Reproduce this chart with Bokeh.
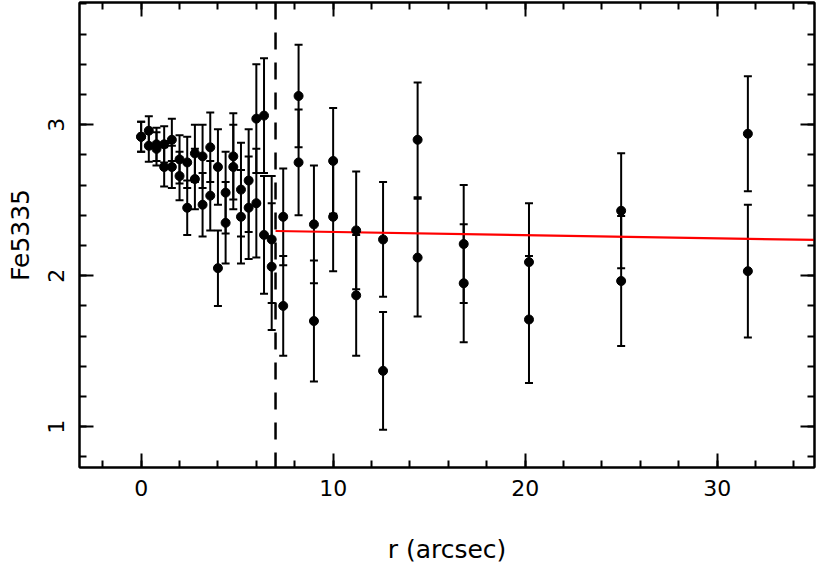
from bokeh.plotting import figure
from bokeh.models import (ColumnDataSource, Whisker, TeeHead, Span, LinearAxis,
                          CustomJSTickFormatter, SingleIntervalTicker, Range1d)
from bokeh.embed import file_html
from bokeh.resources import INLINE

# radius (arcsec) of each bin
r = [0.0, 0.4, 0.8, 1.2, 1.6, 2.0, 2.4, 2.8, 3.2, 3.6, 4.0, 4.4, 4.8, 5.2, 5.6,
     6.0, 6.4, 6.8, 7.4, 8.2, 9.0, 10.0, 11.2, 12.6, 14.4, 16.8, 20.2, 25.0, 31.6]
# side A of the galaxy
fe_a = [2.92, 2.96, 2.87, 2.87, 2.90, 2.77, 2.75, 2.81, 2.79, 2.85, 2.72, 2.55, 2.79, 2.57, 2.63,
        3.04, 3.06, 2.24, 2.39, 3.19, 2.34, 2.76, 2.30, 2.24, 2.90, 2.21, 2.09, 2.43, 2.94]
err_a = [0.10, 0.095, 0.11, 0.12, 0.14, 0.16, 0.17, 0.19, 0.21, 0.23, 0.25, 0.27, 0.285, 0.31, 0.34,
         0.36, 0.38, 0.42, 0.32, 0.34, 0.39, 0.35, 0.39, 0.38, 0.38, 0.39, 0.39, 0.38, 0.38]
# side B of the galaxy
fe_b = [2.92, 2.86, 2.84, 2.72, 2.72, 2.66, 2.45, 2.64, 2.47, 2.53, 2.05, 2.35, 2.72, 2.39, 2.45,
        2.48, 2.27, 2.06, 1.80, 2.75, 1.70, 2.39, 1.87, 1.37, 2.12, 1.95, 1.71, 1.965, 2.03]
err_b = [0.10, 0.105, 0.11, 0.13, 0.14, 0.16, 0.18, 0.20, 0.21, 0.23, 0.25, 0.27, 0.28, 0.31, 0.34,
         0.36, 0.39, 0.42, 0.33, 0.35, 0.40, 0.36, 0.40, 0.39, 0.39, 0.39, 0.42, 0.43, 0.44]

# linear fit beyond the break radius
r_break = 7.0
fit_r = [7.0, 35.1]
fit_fe = [2.296, 2.237]

FONT = "DejaVu Sans"

p = figure(width=817, height=566, output_backend="svg", toolbar_location=None,
           x_range=Range1d(-3.21, 35.07), y_range=Range1d(0.73, 3.809),
           min_border_left=79, min_border_right=3, min_border_top=2, min_border_bottom=96)
p.grid.visible = False
p.outline_line_color = "black"
p.outline_line_width = 2
p.background_fill_color = "white"
p.border_fill_color = "white"

xt = SingleIntervalTicker(interval=10, num_minor_ticks=5)
yt = SingleIntervalTicker(interval=1, num_minor_ticks=5)

xa = p.xaxis[0]
xa.ticker = xt
ya = p.yaxis[0]
ya.ticker = yt
for ax in (xa, ya):
    ax.axis_line_color = "black"
    ax.axis_line_width = 2
    ax.major_tick_in = 14
    ax.major_tick_out = 0
    ax.minor_tick_in = 7
    ax.minor_tick_out = 0
    ax.major_tick_line_width = 2
    ax.minor_tick_line_width = 2
    ax.major_label_text_font = FONT
    ax.major_label_text_font_size = "22px"
    ax.major_label_text_color = "black"
    ax.axis_label_text_font = FONT
    ax.axis_label_text_font_size = "25px"
    ax.axis_label_text_font_style = "normal"
    ax.axis_label_text_color = "black"

xa.axis_label = "r (arcsec)"
xa.major_label_standoff = 12
xa.axis_label_standoff = 36
ya.axis_label = "Fe5335"
ya.major_label_orientation = "vertical"
ya.major_label_standoff = 15
ya.axis_label_standoff = 11

blank = CustomJSTickFormatter(code="return ''")
for loc, tk in (("above", xt), ("right", yt)):
    ax = LinearAxis(ticker=tk, formatter=blank)
    ax.axis_line_color = "black"
    ax.axis_line_width = 2
    ax.major_tick_in = 14
    ax.major_tick_out = 0
    ax.minor_tick_in = 7
    ax.minor_tick_out = 0
    ax.major_tick_line_width = 2
    ax.minor_tick_line_width = 2
    ax.major_label_standoff = 0
    ax.major_label_text_font_size = "1px"
    p.add_layout(ax, loc)

# error bars
for fe, err in ((fe_a, err_a), (fe_b, err_b)):
    src = ColumnDataSource(dict(r=r, lo=[f - e for f, e in zip(fe, err)],
                                up=[f + e for f, e in zip(fe, err)]))
    w = Whisker(base="r", lower="lo", upper="up", source=src,
                line_color="black", line_width=2,
                upper_head=TeeHead(size=8, line_width=2, line_color="black"),
                lower_head=TeeHead(size=8, line_width=2, line_color="black"))
    p.add_layout(w)

p.add_layout(Span(location=r_break, dimension="height", line_color="black",
                  line_width=2.5, line_dash="17 13"))

p.line(fit_r, fit_fe, line_color="red", line_width=2.2)

p.scatter(r, fe_a, size=9, color="black")
p.scatter(r, fe_b, size=9, color="black")

open("out.html", "w").write(file_html(p, INLINE))
